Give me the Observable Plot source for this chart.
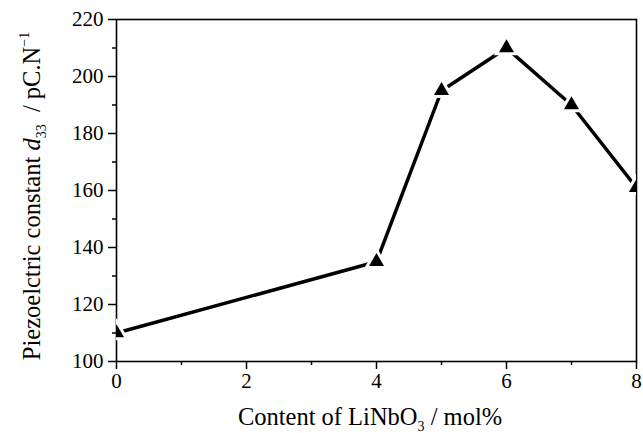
<!DOCTYPE html>
<html>
<head>
<meta charset="utf-8">
<script src="https://cdn.jsdelivr.net/npm/d3@7"></script>
<script src="https://cdn.jsdelivr.net/npm/@observablehq/plot@0.6"></script>
<style>
  html, body { margin: 0; padding: 0; background: #fff; }
  svg { display: block; }
</style>
</head>
<body>
<div id="chart"></div>
<script>
// Data
const content = [0, 4, 5, 6, 7, 8];          // LiNbO3 content, mol%
const d33 = [110, 135, 195, 210, 190, 161];  // pC/N
const xMajorTicks = [0, 2, 4, 6, 8];
const xMinorTicks = [1, 3, 5, 7];
const yMajorTicks = [100, 120, 140, 160, 180, 200, 220];
const yMinorTicks = [110, 130, 150, 170, 190, 210];

const data = content.map((c, i) => ({x: c, y: d33[i]}));

const W = 643, H = 433;
const font = "'Liberation Serif', 'Times New Roman', serif";

const plot = Plot.plot({
  width: W,
  height: H,
  marginLeft: 116,
  marginRight: 7,
  marginTop: 19,
  marginBottom: 72,
  style: {fontFamily: font, fontSize: "21px", color: "#000", background: "#fff"},
  x: {domain: [0, 8]},
  y: {domain: [100, 220]},
  marks: [
    Plot.frame({stroke: "#000", strokeWidth: 1.6}),
    Plot.axisX({ticks: xMajorTicks, tickSize: 8, tickPadding: 4, tickFormat: d => d, label: null, strokeWidth: 1.5}),
    Plot.axisX({ticks: xMinorTicks, tickSize: 4, tickFormat: () => "", label: null, strokeWidth: 1.5}),
    Plot.axisY({ticks: yMajorTicks, tickSize: 8, tickPadding: 5, tickFormat: d => d, label: null, strokeWidth: 1.5}),
    Plot.axisY({ticks: yMinorTicks, tickSize: 4, tickFormat: () => "", label: null, strokeWidth: 1.5}),
    Plot.line(data, {x: "x", y: "y", stroke: "#000", strokeWidth: 3.5, clip: true}),
    Plot.dot(data, {x: "x", y: "y", symbol: "triangle", r: 5.6, fill: "#000", stroke: "#fff", strokeWidth: 6, paintOrder: "stroke", clip: true})
  ]
});

document.getElementById("chart").appendChild(plot);

const svg = d3.select(plot);
svg.selectAll("text").style("font-size", "21px").style("font-family", font);

// Axis titles with subscripts / superscripts, appended to the Plot SVG
const ys = plot.scale("y");

const xl = svg.append("text")
  .attr("x", 370).attr("y", 425)
  .attr("text-anchor", "middle")
  .attr("font-family", font).attr("font-size", 24.5).attr("fill", "#000");
xl.append("tspan").text("Content of LiNbO");
xl.append("tspan").attr("font-size", 14).attr("dy", 6).text("3");
xl.append("tspan").attr("dy", -6).text(" / mol%");

const yl = svg.append("text")
  .attr("transform", `translate(40,${(ys.apply(220) + ys.apply(100)) / 2 + 6}) rotate(-90)`)
  .attr("text-anchor", "middle")
  .attr("font-family", font).attr("font-size", 24.5).attr("fill", "#000");
yl.append("tspan").text("Piezoelctric constant ");
yl.append("tspan").attr("font-style", "italic").text("d");
yl.append("tspan").attr("font-size", 14).attr("dy", 6).text("33");
yl.append("tspan").attr("dy", -6).text("  / pC.N");
yl.append("tspan").attr("font-size", 14).attr("dy", -11).text("\u22121");
</script>
</body>
</html>
